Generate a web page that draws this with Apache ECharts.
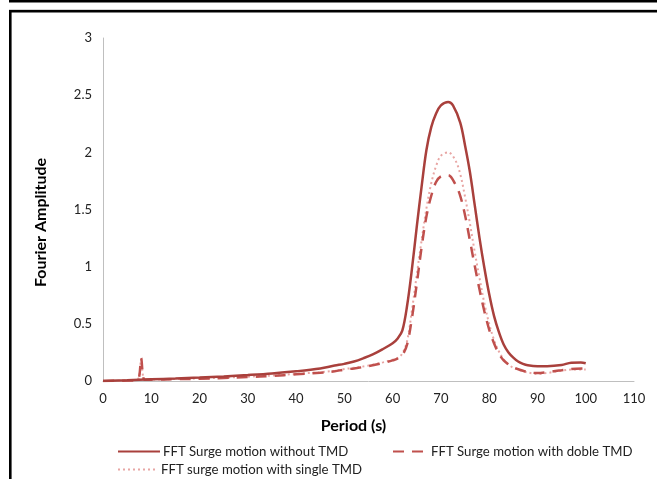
<!DOCTYPE html>
<html><head><meta charset="utf-8">
<script src="https://cdn.jsdelivr.net/npm/echarts@6/dist/echarts.min.js"></script>
<style>html,body{margin:0;padding:0;background:#fff}#c{width:657px;height:479px}</style>
</head><body><div id="c"></div>
<script>
const seriesNames = ['FFT Surge motion without TMD','FFT Surge motion with doble TMD','FFT surge motion with single TMD'];
const xTicks = [0,10,20,30,40,50,60,70,80,90,100,110];
const yTicks = [0,0.5,1,1.5,2,2.5,3];

const noTmd = [[0,0],[5,0.006],[10,0.015],[15,0.022],[20,0.03],[25,0.04],[30,0.052],[35,0.066],[40,0.085],[45,0.11],[48,0.135],[50,0.15],[52,0.17],[54,0.2],[56,0.235],[58,0.28],[60,0.33],[61,0.37],[62,0.44],[63,0.66],[64,0.98],[65,1.35],[66,1.7],[67,2.02],[68,2.22],[69,2.34],[70,2.41],[71.5,2.44],[72.5,2.41],[74,2.26],[75,2.06],[76,1.83],[77,1.54],[78,1.25],[79,0.99],[80,0.76],[81,0.57],[82,0.43],[83,0.32],[84,0.25],[85,0.205],[86,0.17],[87,0.15],[88,0.138],[90,0.13],[92,0.13],[95,0.14],[97,0.16],[99,0.162],[100,0.155]];
const doubleTmd = [[0,0],[5,0.004],[7,0.008],[7.5,0.04],[7.9,0.2],[8.3,0.04],[8.7,0.01],[10,0.012],[15,0.016],[20,0.02],[25,0.027],[30,0.035],[35,0.045],[40,0.058],[45,0.072],[48,0.085],[50,0.1],[52,0.11],[55,0.13],[58,0.158],[60,0.18],[61,0.195],[62,0.225],[63,0.32],[64,0.55],[65,0.85],[66,1.17],[67,1.44],[68,1.62],[69,1.74],[70,1.79],[71.5,1.8],[73,1.72],[74,1.62],[75,1.45],[76,1.23],[77,1.01],[78,0.8],[79,0.61],[80,0.45],[81,0.33],[82,0.24],[83,0.18],[84,0.145],[85,0.12],[87,0.09],[89,0.072],[90,0.07],[92,0.078],[95,0.095],[97,0.105],[100,0.11]];
const singleTmd = [[0,0],[5,0.004],[7,0.008],[7.5,0.04],[7.9,0.19],[8.3,0.04],[8.7,0.01],[10,0.012],[15,0.017],[20,0.022],[25,0.029],[30,0.038],[35,0.048],[40,0.062],[45,0.077],[48,0.09],[50,0.105],[52,0.115],[55,0.135],[58,0.163],[60,0.186],[61,0.2],[62,0.24],[63,0.35],[64,0.62],[65,0.93],[66,1.23],[67,1.51],[68,1.73],[69,1.88],[70,1.97],[71.5,2.0],[73,1.93],[74,1.81],[75,1.61],[76,1.38],[77,1.13],[78,0.9],[79,0.68],[80,0.5],[81,0.36],[82,0.26],[83,0.19],[84,0.145],[85,0.115],[87,0.085],[89,0.066],[90,0.062],[92,0.07],[95,0.09],[97,0.1],[100,0.1]];

const FONT = 'Lato';
const chart = echarts.init(document.getElementById('c'), null, {renderer:'canvas'});
const W = 657, H = 479;
const legText = {fontFamily:FONT,fontSize:13.2,color:'#222'};
chart.setOption({
  animation:false,
  backgroundColor:'#fff',
  textStyle:{fontFamily:FONT},
  graphic:[
    {type:'rect', shape:{x:9,y:0,width:W-9,height:2.5}, style:{fill:'#000'}},
    {type:'rect', shape:{x:9,y:9,width:W-9,height:0.8}, style:{fill:'#c8c8c8'}},
    {type:'rect', shape:{x:9,y:10,width:W-9,height:2.5}, style:{fill:'#000'}},
    {type:'rect', shape:{x:9,y:10,width:2.6,height:H-10}, style:{fill:'#000'}}
  ],
  grid:{left:103,right:23,top:38,bottom:98,containLabel:false},
  xAxis:{type:'value',min:0,max:110,interval:10,
    name:'Period (s)',nameLocation:'middle',nameGap:37,
    nameTextStyle:{fontFamily:FONT,fontWeight:'bold',fontSize:16,color:'#000',padding:[0,30,0,0]},
    axisLine:{show:true,lineStyle:{color:'#bfbfbf',width:1}},
    axisTick:{show:false},splitLine:{show:false},
    axisLabel:{fontFamily:FONT,fontSize:13,color:'#222',margin:11,
      formatter:v=>xTicks.includes(v)?String(v):''}},
  yAxis:{type:'value',min:0,max:3,interval:0.5,
    name:'Fourier Amplitude',nameLocation:'middle',nameGap:54,nameRotate:90,
    nameTextStyle:{fontFamily:FONT,fontWeight:'bold',fontSize:16,color:'#000',padding:[0,26,0,0]},
    axisLine:{show:true,lineStyle:{color:'#bfbfbf',width:1}},
    axisTick:{show:false},splitLine:{show:false},
    axisLabel:{fontFamily:FONT,fontSize:13,color:'#222',margin:11,
      formatter:v=>yTicks.includes(v)?String(v):''}},
  legend:[
    {data:[seriesNames[0]],left:112,top:440,itemWidth:42,itemHeight:10,itemGap:0,
      itemStyle:{opacity:0},textStyle:Object.assign({padding:[0,0,0,-2]},legText)},
    {data:[seriesNames[1]],left:387,top:440,itemWidth:34,itemHeight:10,
      itemStyle:{opacity:0},textStyle:Object.assign({padding:[0,0,0,-1]},legText)},
    {data:[seriesNames[2]],left:112,top:458,itemWidth:38,itemHeight:10,
      itemStyle:{opacity:0},textStyle:Object.assign({padding:[0,0,0,0]},legText)}
  ],
  series:[
    {name:seriesNames[0],type:'line',data:noTmd,symbol:'none',smooth:0.35,
      lineStyle:{color:'#a9403c',width:2.5},itemStyle:{color:'#a9403c'},z:3},
    {name:seriesNames[1],type:'line',data:doubleTmd,symbol:'none',smooth:0.35,
      lineStyle:{color:'#c0504d',width:2.5,type:[11,8]},itemStyle:{color:'#c0504d'},z:2},
    {name:seriesNames[2],type:'line',data:singleTmd,symbol:'none',smooth:0.35,
      lineStyle:{color:'#e8a6a4',width:2,type:[2,3]},itemStyle:{color:'#e8a6a4'},z:1}
  ]
});
</script></body></html>
